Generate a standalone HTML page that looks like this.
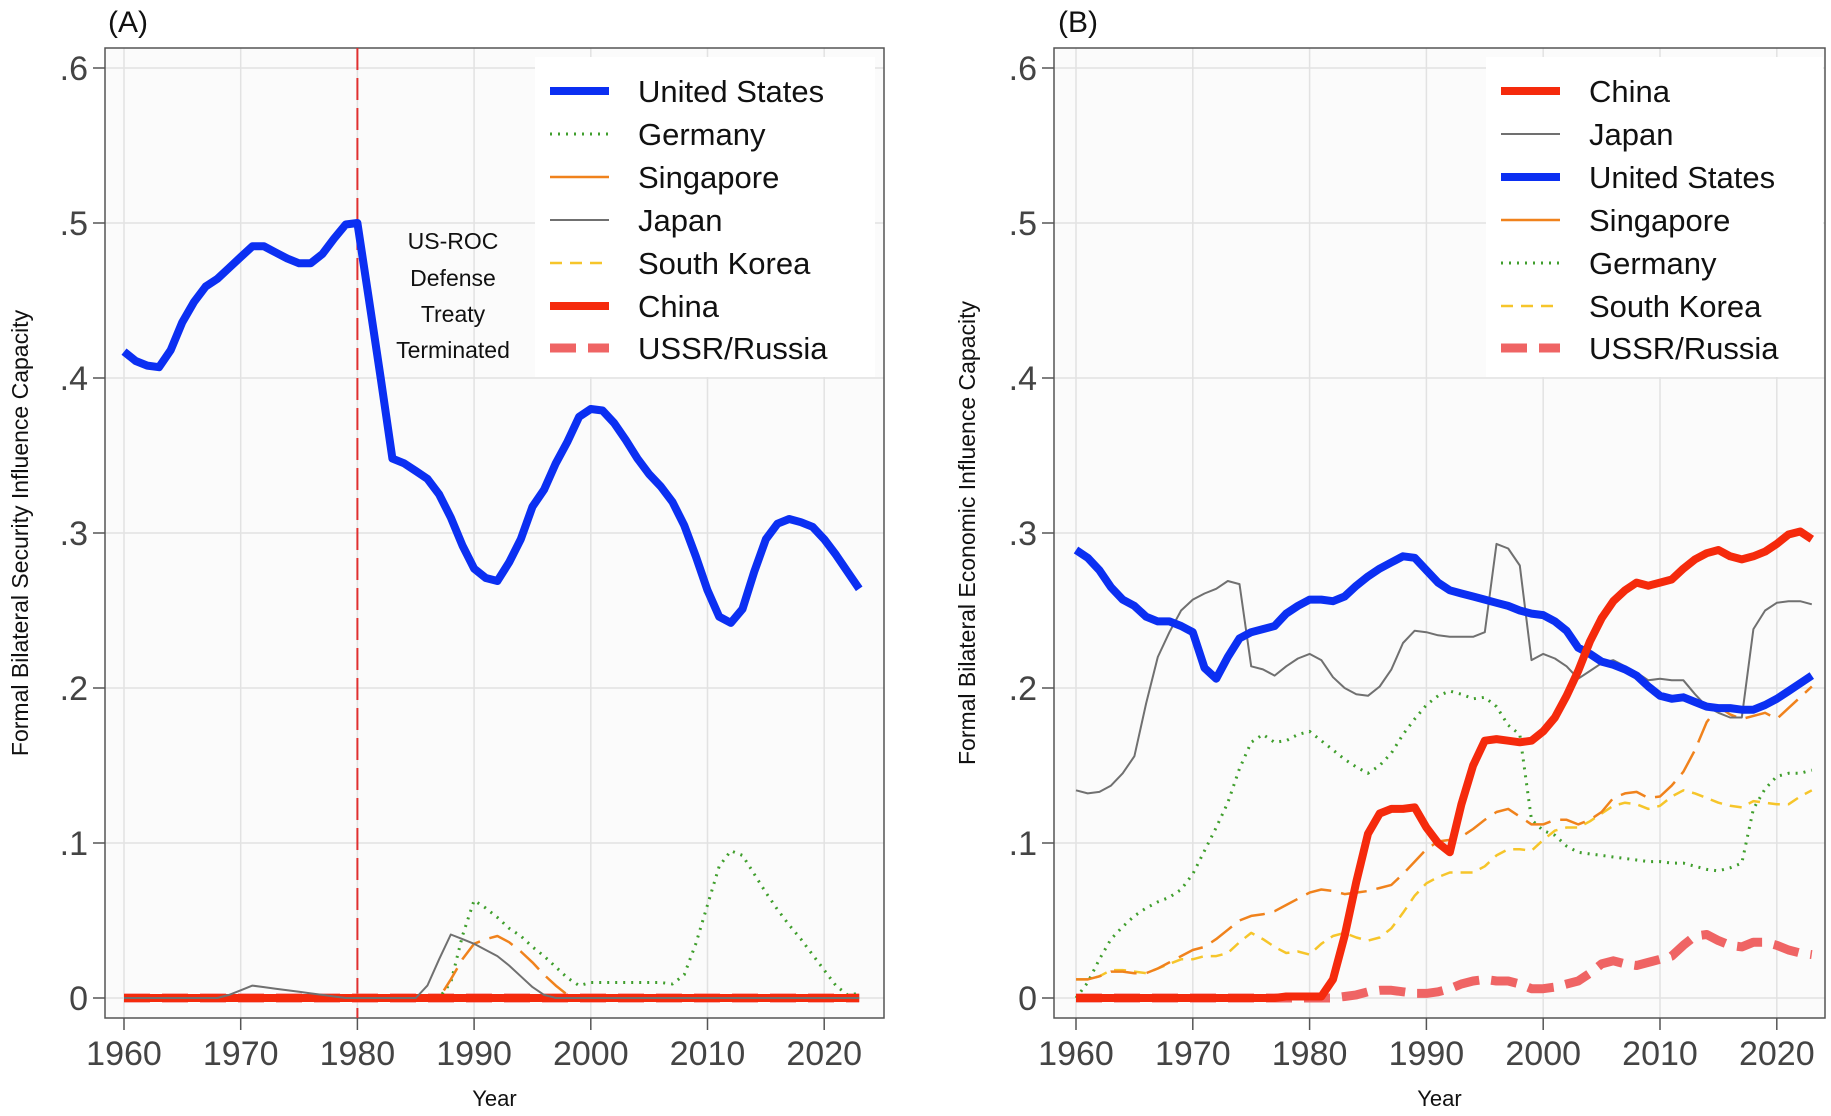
<!DOCTYPE html>
<html><head><meta charset="utf-8">
<style>
html,body{margin:0;padding:0;background:#fff;}
svg{display:block;font-family:"Liberation Sans",Arial,sans-serif;}
</style></head>
<body>
<svg id="chart" width="1831" height="1116" viewBox="0 0 1831 1116"></svg>
<script>
const years = [];
for (let y = 1960; y <= 2023; y++) years.push(y);
const yTicks = [0, 0.1, 0.2, 0.3, 0.4, 0.5, 0.6];
const yTickLabels = ["0", ".1", ".2", ".3", ".4", ".5", ".6"];
const xTicks = [1960, 1970, 1980, 1990, 2000, 2010, 2020];

// Panel A (security)
const aUS = [.417,.411,.408,.407,.418,.436,.449,.459,.464,.471,.478,.485,.485,.481,.477,.474,.474,.480,.490,.499,.500,.450,.400,.348,.345,.340,.335,.325,.310,.292,.277,.271,.269,.281,.296,.317,.328,.345,.359,.375,.380,.379,.371,.360,.348,.338,.330,.320,.305,.285,.263,.246,.242,.251,.275,.296,.306,.309,.307,.304,.296,.286,.275,.264];
const aGermany = [0,0,0,0,0,0,0,0,0,0,0,0,0,0,0,0,0,0,0,0,0,0,0,0,0,0,0,0,.010,.040,.063,.058,.052,.045,.040,.033,.027,.020,.013,.008,.010,.010,.010,.010,.010,.010,.010,.009,.015,.035,.060,.085,.095,.092,.080,.068,.057,.047,.038,.028,.018,.008,.002,.003];
const aSingapore = [0,0,0,0,0,0,0,0,0,0,0,0,0,0,0,0,0,0,0,0,0,0,0,0,0,0,0,0,.012,.025,.035,.038,.040,.036,.030,.023,.015,.008,.002,0,0,0,0,0,0,0,0,0,0,0,0,0,0,0,0,0,0,0,0,0,0,0,0,0];
const aJapan = [0,0,0,0,0,0,0,0,0,.002,.005,.008,.007,.006,.005,.004,.003,.002,.001,0,0,0,0,0,0,0,.008,.025,.041,.038,.035,.031,.027,.021,.014,.007,.002,0,0,0,0,0,0,0,0,0,0,0,0,0,0,0,0,0,0,0,0,0,0,0,0,0,0,0];
const aZero = years.map(() => 0);

// Panel B (economic)
const bUS = [.289,.284,.276,.265,.257,.253,.246,.243,.243,.240,.236,.213,.206,.220,.232,.236,.238,.240,.248,.253,.257,.257,.256,.259,.266,.272,.277,.281,.285,.284,.276,.268,.263,.261,.259,.257,.255,.253,.250,.248,.247,.243,.237,.226,.222,.217,.215,.212,.208,.201,.195,.193,.194,.191,.188,.187,.187,.186,.186,.189,.193,.198,.203,.208];
const bJapan = [.134,.132,.133,.137,.145,.156,.190,.220,.236,.250,.257,.261,.264,.269,.267,.214,.212,.208,.214,.219,.222,.218,.207,.200,.196,.195,.201,.212,.229,.237,.236,.234,.233,.233,.233,.236,.293,.290,.279,.218,.222,.219,.214,.206,.211,.216,.218,.214,.210,.205,.206,.205,.205,.196,.188,.184,.181,.181,.238,.250,.255,.256,.256,.254];
const bChina = [0,0,0,0,0,0,0,0,0,0,0,0,0,0,0,0,0,0,.001,.001,.001,.001,.012,.040,.075,.106,.119,.122,.122,.123,.110,.100,.094,.125,.150,.166,.167,.166,.165,.166,.172,.181,.195,.211,.230,.245,.256,.263,.268,.266,.268,.270,.277,.283,.287,.289,.285,.283,.285,.288,.293,.299,.301,.296];
const bSingapore = [.012,.012,.014,.017,.017,.016,.016,.019,.023,.027,.031,.033,.038,.044,.050,.053,.054,.056,.060,.064,.068,.070,.069,.067,.068,.069,.071,.073,.080,.088,.096,.101,.102,.104,.109,.115,.120,.122,.117,.112,.112,.115,.115,.112,.115,.120,.129,.132,.133,.129,.130,.137,.146,.160,.178,.188,.183,.180,.182,.184,.180,.187,.194,.201];
const bKorea = [.012,.012,.014,.018,.018,.017,.016,.019,.022,.025,.025,.027,.027,.029,.036,.042,.038,.033,.029,.030,.028,.035,.040,.042,.039,.037,.039,.045,.055,.066,.074,.078,.081,.081,.081,.085,.092,.096,.096,.095,.102,.108,.110,.110,.114,.119,.124,.126,.125,.122,.124,.130,.134,.132,.129,.126,.124,.123,.127,.126,.125,.125,.130,.134];
const bGermany = [0,.010,.025,.038,.046,.053,.058,.062,.065,.070,.080,.095,.110,.126,.148,.165,.170,.165,.166,.170,.172,.166,.160,.154,.149,.145,.150,.158,.170,.180,.189,.195,.198,.196,.193,.194,.188,.176,.170,.115,.108,.105,.098,.094,.093,.092,.091,.090,.089,.088,.088,.087,.087,.085,.083,.082,.084,.087,.122,.135,.143,.145,.145,.147];
const bRussia = [0,0,0,0,0,0,0,0,0,0,0,0,0,0,0,0,0,0,0,0,0,0,0,.001,.002,.004,.005,.005,.004,.003,.003,.004,.006,.009,.011,.012,.011,.011,.009,.006,.006,.007,.009,.011,.016,.022,.024,.022,.021,.023,.025,.027,.034,.040,.041,.037,.034,.033,.036,.036,.034,.031,.029,.028];

const NS = "http://www.w3.org/2000/svg";
const svg = document.getElementById('chart');
function el(tag, attrs, parent, text) {
  const e = document.createElementNS(NS, tag);
  for (const k in attrs) e.setAttribute(k, attrs[k]);
  if (text !== undefined) e.textContent = text;
  (parent || svg).appendChild(e);
  return e;
}

const styles = {
  us: {stroke:"#0b2ff2", w:8, dash:""},
  china: {stroke:"#f52a0c", w:8, dash:""},
  germany: {stroke:"#3f9e2c", w:3, dash:"2 6"},
  singapore: {stroke:"#f0821c", w:2.5, dash:"26 10"},
  japan: {stroke:"#707070", w:2, dash:""},
  korea: {stroke:"#f6c52a", w:2.5, dash:"12 8"},
  russia: {stroke:"#ef6464", w:9, dash:"26 12"}
};

function panel(cfg) {
  const g = el('g', {}, svg);
  
  
  const X = v => cfg.x0 + (v - 1960) * cfg.xs;
  const Y = v => 998 - v * 1550;
  const L = cfg.left, R = cfg.right, T = 48, B = 1018;
  const bg = el('rect', {x:L, y:T, width:R-L, height:B-T, fill:"#fbfbfb"}, g);
  
  
  yTicks.forEach((t, i) => {
    const gl = el('line', {x1:L, x2:R, y1:Y(t), y2:Y(t), stroke:"#e2e2e2", "stroke-width":1.5}, g);
    
    
    el('line', {x1:L-12, x2:L, y1:Y(t), y2:Y(t), stroke:"#555", "stroke-width":1.5}, g);
    const tl = el('text', {x:L-17, y:Y(t)+12, "text-anchor":"end", "font-size":34, fill:"#444"}, g, yTickLabels[i]);
    
    
  });
  xTicks.forEach(t => {
    const gl = el('line', {x1:X(t), x2:X(t), y1:T, y2:B, stroke:"#e2e2e2", "stroke-width":1.5}, g);
    
    
    el('line', {x1:X(t), x2:X(t), y1:B, y2:B+12, stroke:"#555", "stroke-width":1.5}, g);
    const tl = el('text', {x:X(t), y:1065, "text-anchor":"middle", "font-size":34, fill:"#444"}, g, String(t));
    
    
  });
  const fr = el('rect', {x:L, y:T, width:R-L, height:B-T, fill:"none", stroke:"#555", "stroke-width":1.5}, g);
  
  

  if (cfg.vline) {
    const vl = el('line', {x1:X(1980), x2:X(1980), y1:T, y2:B, stroke:"#e03030", "stroke-width":2, "stroke-dasharray":"22 8"}, g);
    
    
  }

  cfg.series.forEach(s => {
    const st = styles[s.key];
    const pts = s.data.map((v, i) => X(years[i]).toFixed(1) + "," + Y(v).toFixed(1)).join(" ");
    const p = el('polyline', {points:pts, fill:"none", stroke:st.stroke, "stroke-width":st.w, "stroke-dasharray":st.dash, "stroke-linejoin":"round"}, g);
    
    
  });

  const lg = el('g', {}, g);
  
  
  el('rect', {x:cfg.lgx, y:57, width:cfg.lgw, height:320, fill:"#fff"}, lg);
  const rows = [91,134,177,220,263,306,348];
  cfg.legend.forEach((it, i) => {
    const st = styles[it.key];
    const e = el('g', {}, lg);
    
    
    el('line', {x1:cfg.lgx+15, x2:cfg.lgx+74, y1:rows[i], y2:rows[i], stroke:st.stroke, "stroke-width":st.w, "stroke-dasharray":it.key==="singapore"?"":st.dash}, e);
    el('text', {x:cfg.lgx+103, y:rows[i]+11, "font-size":31, fill:"#111"}, e, it.label);
  });

  const tt = el('text', {x:cfg.titleX, y:32, "font-size":30, fill:"#111"}, g, cfg.title);
  
  
  const xt = el('text', {x:(L+R)/2, y:1106, "text-anchor":"middle", "font-size":22, fill:"#111"}, g, "Year");
  
  
  const yt = el('text', {x:0, y:0, "text-anchor":"middle", "font-size":23, fill:"#111", transform:`translate(${cfg.ytx},${533}) rotate(-90)`}, g, cfg.ytitle);
  
  
  return X;
}

panel({name:"panel-a-security", left:105, right:884, x0:124, xs:11.67, vline:true,
  lgx:535, lgw:340, title:"(A)", titleX:108, ytx:28,
  ytitle:"Formal Bilateral Security Influence Capacity",
  series:[{key:"russia",data:aZero},{key:"korea",data:aZero},{key:"germany",data:aGermany},{key:"singapore",data:aSingapore},{key:"china",data:aZero},{key:"japan",data:aJapan},{key:"us",data:aUS}],
  legend:[{key:"us",label:"United States"},{key:"germany",label:"Germany"},{key:"singapore",label:"Singapore"},{key:"japan",label:"Japan"},{key:"korea",label:"South Korea"},{key:"china",label:"China"},{key:"russia",label:"USSR/Russia"}]
});
["US-ROC","Defense","Treaty","Terminated"].forEach((t, i) => {
  const a = el('text', {x:453, y:[249,286,322,358][i], "text-anchor":"middle", "font-size":23, fill:"#111"}, svg, t);
  
  
});

panel({name:"panel-b-economic", left:1054, right:1825, x0:1076, xs:11.68, vline:false,
  lgx:1486, lgw:337, title:"(B)", titleX:1058, ytx:975,
  ytitle:"Formal Bilateral Economic Influence Capacity",
  series:[{key:"germany",data:bGermany},{key:"korea",data:bKorea},{key:"singapore",data:bSingapore},{key:"japan",data:bJapan},{key:"us",data:bUS},{key:"russia",data:bRussia},{key:"china",data:bChina}],
  legend:[{key:"china",label:"China"},{key:"japan",label:"Japan"},{key:"us",label:"United States"},{key:"singapore",label:"Singapore"},{key:"germany",label:"Germany"},{key:"korea",label:"South Korea"},{key:"russia",label:"USSR/Russia"}]
});
</script>
</body></html>
